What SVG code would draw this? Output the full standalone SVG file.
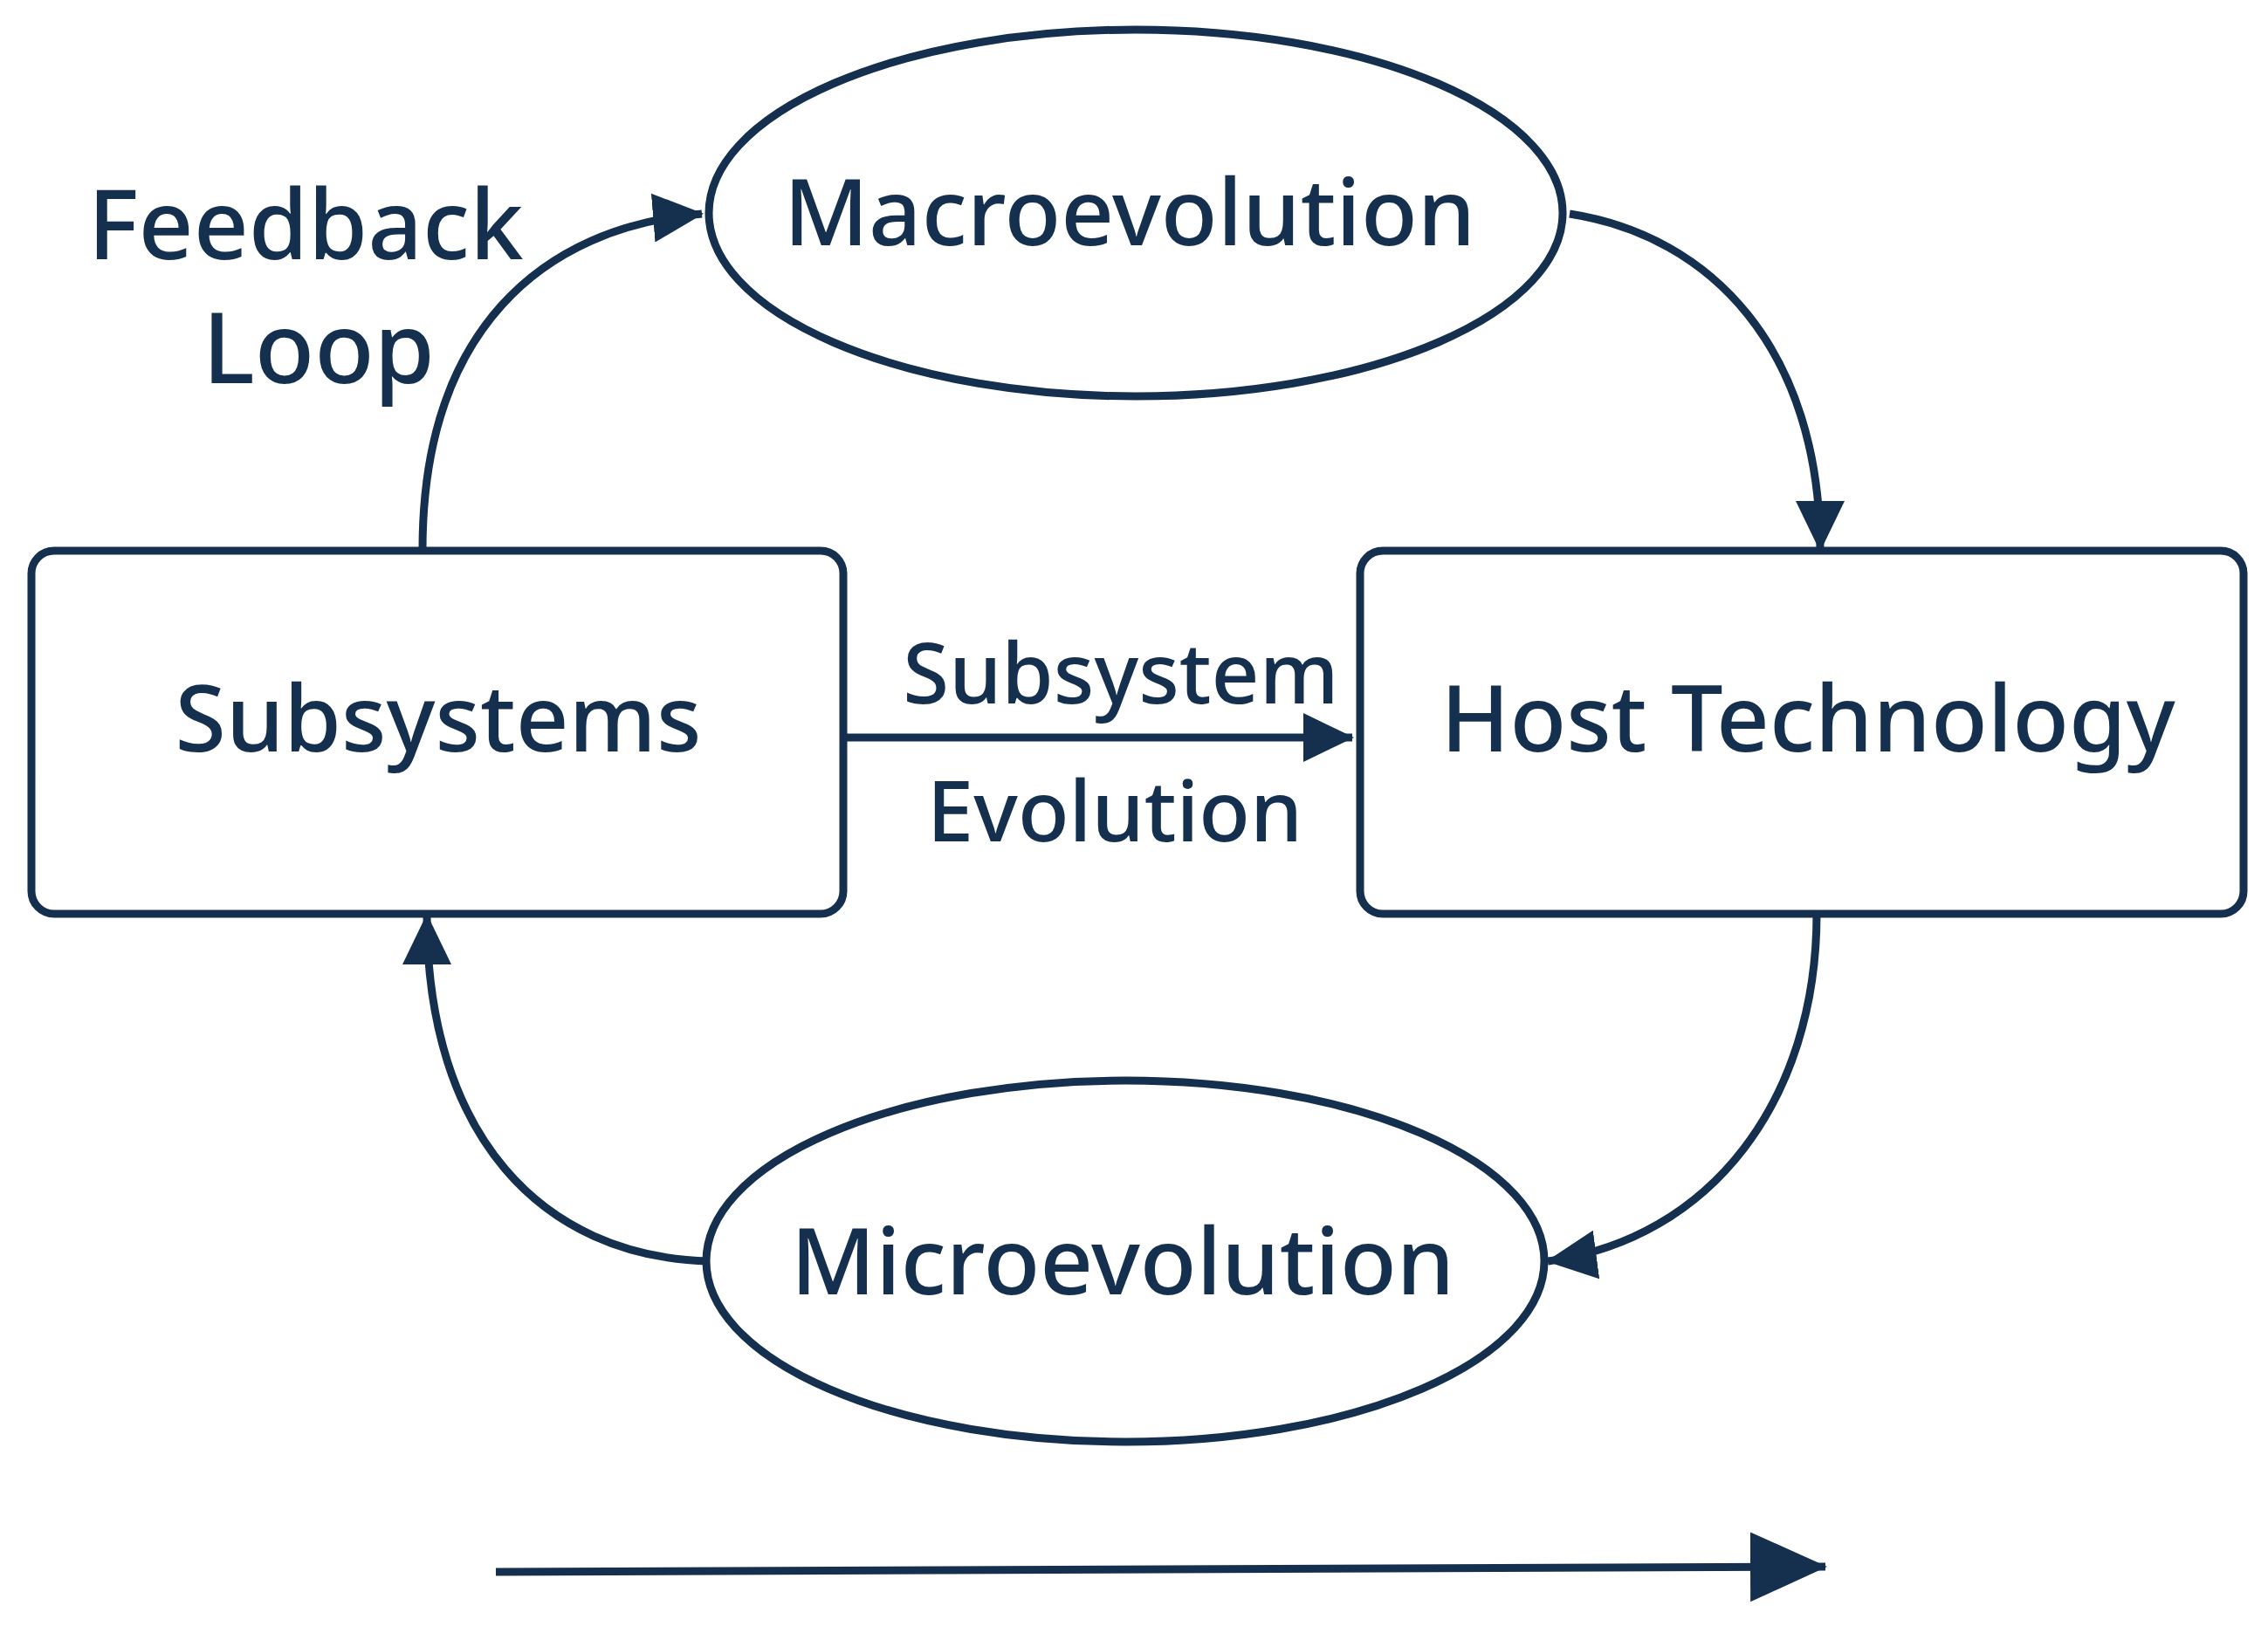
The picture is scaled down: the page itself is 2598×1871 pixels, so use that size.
<svg xmlns="http://www.w3.org/2000/svg" width="2598" height="1871" viewBox="0 0 2598 1871">
<style>
.n{fill:#fff;stroke:#15304f;stroke-width:9}
.t{font-family:"Noto Sans","Liberation Sans",sans-serif;font-weight:500;fill:#15304f;text-anchor:middle;dominant-baseline:central}
.c{fill:none;stroke:#15304f;stroke-width:9}
</style>
<defs>
<marker id="a" markerUnits="userSpaceOnUse" markerWidth="60" markerHeight="60" refX="56" refY="30" orient="auto">
<path d="M0,2 L58,30 L0,58 Z" fill="#15304f"/>
</marker>
<marker id="b" markerUnits="userSpaceOnUse" markerWidth="90" markerHeight="90" refX="86" refY="45" orient="auto">
<path d="M0,5 L88,45 L0,85 Z" fill="#15304f"/>
</marker>
</defs>
<rect width="2598" height="1871" fill="#fff"/>
<g id="connectors">
<path class="c" d="M484,630 C484,380 620,260 804,245" marker-end="url(#a)"/>
<path class="c" d="M1798,245 C1960,270 2085,400 2085,630" marker-end="url(#a)"/>
<path class="c" d="M2081,1047 C2081,1260 1960,1420 1773,1445" marker-end="url(#a)"/>
<path class="c" d="M812,1445 C620,1440 489,1300 489,1049" marker-end="url(#a)"/>
<path class="c" d="M969,845 L1549,845" marker-end="url(#a)"/>
<path class="c" d="M568,1801 L2091,1795" marker-end="url(#b)"/>
</g>
<g id="macro"><ellipse class="n" cx="1301" cy="244" rx="489" ry="210"/><text class="t" x="1294" y="240" font-size="106">Macroevolution</text></g>
<g id="subsystems"><rect class="n" x="36" y="631" width="930" height="416" rx="26"/><text class="t" x="502" y="820" font-size="106">Subsystems</text></g>
<g id="host"><rect class="n" x="1558" y="631" width="1012" height="416" rx="26"/><text class="t" x="2071" y="820" font-size="106">Host Technology</text></g>
<g id="micro"><ellipse class="n" cx="1289" cy="1445" rx="480" ry="207"/><text class="t" x="1286" y="1442" font-size="106">Microevolution</text></g>
<g id="labels">
<text class="t" x="350" y="254" font-size="110">Feedback</text>
<text class="t" x="365" y="395" font-size="112">Loop</text>
<text class="t" x="1284" y="768" font-size="96">Subsystem</text>
<text class="t" x="1277" y="926" font-size="96">Evolution</text>
</g>
</svg>
